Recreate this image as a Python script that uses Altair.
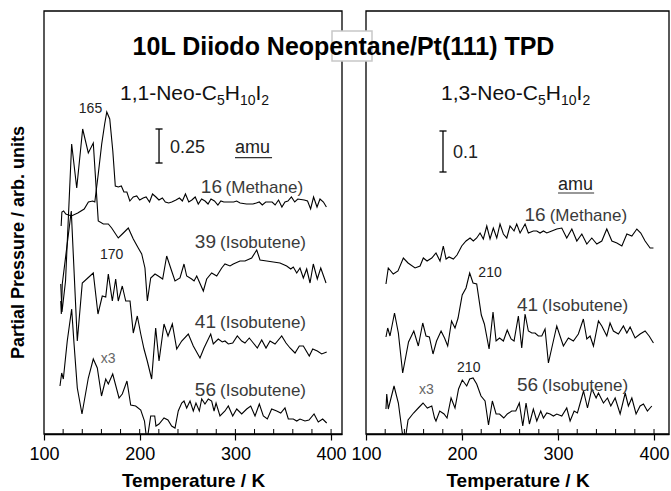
import altair as alt
import pandas as pd

FONT = "Liberation Sans"

# ---------------- data (T in K, signal in arb. units) ----------------
# Left panel: 1,1-Neo-C5H10I2
L_M16 = [(117.9,208),(118.7,222),(120.5,223),(122.8,220),(128.6,218),(135.3,221),(142.0,225),(146.4,232),
         (150.9,233),(153.1,232),(156.7,260),(160.3,290),(163.4,310),(165.6,322),(168.7,315),(171.9,283),
         (174.5,248),(177.7,247),(180.8,248),(183.5,242),(186.6,242),(189.7,233),(193.3,237),(196.9,238),
         (200.0,234),(203.6,236),(206.7,237),(210.3,232),(213.4,240),(217.0,237),(220.1,234),(223.7,236),
         (226.8,232),(230.3,231),(233.5,232),(237.9,234),(241.5,236),(244.6,233),(247.8,240),(251.3,232),
         (254.5,234),(258.0,237),(261.2,230),(264.7,235),(268.3,233),(271.4,230),(274.5,235),(278.1,233),
         (281.7,229),(284.8,233),(287.9,232),(291.5,232),(298.2,232),(301.3,233),(304.9,231),(311.6,230),
         (318.3,230),(321.9,231),(325.0,232),(328.1,229),(331.7,232),(338.4,232),(341.5,229),(345.1,234),
         (348.6,227),(351.8,232),(354.9,233),(358.5,237),(362.0,232),(365.2,235),(371.9,234),(375.4,233),
         (378.6,225),(381.7,237),(385.3,227),(388.4,235),(392.0,232),(395.1,227)]
L_I39 = [(117.5,150),(118.8,122),(122.5,153),(128.9,290),(134.2,246),(140.4,305),(146.3,281),(151.5,291),
         (156.7,213),(162.0,210),(167.2,210),(170.7,206),(177.6,196),(182.9,201),(188.1,206),(193.3,195),
         (198.5,186),(202.1,180),(205.5,166),(208.0,133),(211.5,156),(216.0,160),(219.4,158),(224.0,155),
         (228.2,178),(233.4,163),(236.9,153),(242.1,156),(246.3,170),(249.1,158),(254.3,155),(256.8,153),
         (259.6,158),(266.5,143),(270.0,155),(275.2,161),(280.5,158),(285.7,166),(289.1,170),(294.4,168),
         (297.8,170),(304.8,173),(310.0,173),(317.0,176),(322.3,184),(325.7,174),(332.7,173),(339.6,172),
         (346.6,171),(353.6,168),(357.8,165),(360.5,167),(364.1,161),(367.5,166),(371.0,156),(374.5,165),
         (378.0,151),(381.4,170),(385.6,155),(389.2,166),(394.7,151)]
L_I41 = [(117.5,133),(118.1,120),(119.1,150),(128.5,223),(134.8,93),(140.0,151),(151.5,161),(156.4,120),
         (160.9,138),(164.5,137),(167.2,160),(171.4,133),(174.9,155),(177.6,133),(181.8,148),(185.4,133),
         (189.9,133),(193.3,101),(197.5,118),(201.1,100),(204.5,85),(207.9,73),(212.5,55),(216.7,106),
         (220.2,73),(225.4,110),(229.6,98),(234.1,110),(238.7,85),(243.9,93),(250.8,100),(256.0,88),
         (263.0,76),(267.2,86),(274.2,100),(276.9,90),(282.1,95),(286.3,92),(289.1,93),(292.6,90),
         (297.2,91),(302.0,98),(306.6,93),(310.0,91),(314.5,96),(318.7,91),(322.9,86),(327.5,94),
         (332.0,86),(336.2,93),(341.4,90),(348.4,98),(352.9,91),(357.1,86),(362.3,81),(366.8,88),
         (371.0,88),(377.2,78),(380.8,85),(385.6,83),(390.2,80),(395.4,82)]
L_I56 = [(116.7,48),(118.5,61),(120.2,55),(124.3,93),(128.9,125),(131.4,90),(134.8,46),(139.7,20),
         (146.3,56),(151.5,75),(155.7,66),(160.1,38),(164.5,55),(167.2,50),(171.8,60),(178.4,36),
         (181.8,40),(186.7,53),(190.6,29),(195.8,28),(201.1,24),(205.0,13),(207.1,-4),(208.4,-2),
         (211.5,18),(215.7,18),(217.0,8),(220.2,10),(225.4,16),(229.5,14),(233.4,8),(236.9,6),
         (240.3,23),(243.9,31),(246.3,33),(249.1,26),(252.6,33),(256.0,23),(258.8,31),(262.3,23),
         (264.8,35),(268.2,30),(271.7,35),(275.2,33),(277.7,23),(279.8,31),(283.9,18),(289.1,23),
         (292.6,28),(297.2,18),(301.4,25),(306.6,20),(311.8,25),(316.0,28),(320.5,18),(325.0,30),
         (329.2,18),(333.4,15),(337.9,25),(343.2,23),(347.4,21),(351.8,26),(355.3,15),(360.5,15),
         (364.1,13),(367.5,15),(372.7,13),(376.9,14),(382.2,20),(386.6,12),(391.2,15),(395.4,11)]

# Right panel: 1,3-Neo-C5H10I2
R_M16 = [(120.8,150),(123.2,166),(128.4,160),(133.3,163),(138.9,176),(143.8,171),(151.1,166),(156.3,168),
         (159.7,176),(163.6,173),(168.5,176),(172.9,181),(177.1,173),(180.5,188),(183.4,175),(186.5,177),
         (191.0,175),(194.8,179),(199.7,188),(204.2,193),(208.4,196),(211.8,193),(215.3,196),(218.8,201),
         (222.2,195),(225.8,208),(229.2,195),(232.6,206),(236.2,196),(239.6,210),(243.1,200),(246.6,196),
         (250.0,208),(254.2,203),(257.0,210),(260.5,201),(265.7,210),(269.1,201),(274.3,203),(277.9,203),
         (281.3,201),(284.8,203),(288.3,201),(293.5,203),(298.7,205),(303.9,206),(309.1,196),(314.4,205),
         (319.6,193),(324.8,200),(330.0,190),(335.2,196),(340.4,190),(345.6,193),(350.8,205),(356.1,193),
         (361.3,191),(366.5,188),(371.7,200),(376.9,198),(382.1,205),(386.2,201),(390.7,193),(395.9,186),
         (399.4,186)]
R_I41 = [(120.8,97),(122.6,106),(125.0,98),(129.7,121),(133.7,101),(138.2,61),(144.3,92),(149.8,103),
         (154.5,88),(159.1,111),(162.5,98),(166.0,97),(169.8,80),(173.5,93),(178.2,103),(181.8,96),
         (185.1,88),(189.1,113),(192.7,106),(195.9,116),(200.2,139),(204.2,146),(208.0,161),(211.5,151),
         (215.3,150),(220.1,119),(223.3,110),(228.2,85),(232.3,122),(235.5,93),(239.1,96),(243.1,93),
         (247.1,104),(251.1,95),(254.2,93),(258.7,118),(262.2,86),(265.7,120),(269.1,103),(272.7,101),
         (276.1,101),(279.5,98),(283.1,98),(286.5,105),(290.0,71),(293.5,86),(298.7,108),(302.1,98),
         (305.6,88),(310.8,96),(316.0,93),(321.2,100),(326.4,115),(330.0,95),(333.4,98),(336.9,88),
         (342.1,113),(345.6,108),(350.8,98),(354.2,111),(357.7,103),(362.9,100),(368.1,108),(371.7,101),
         (375.1,107),(380.3,96),(385.5,100),(390.7,103),(394.9,98),(399.4,91)]
R_I56 = [(120.8,25),(121.6,40),(123.2,25),(129.2,48),(133.7,31),(137.8,1),(140.1,-7),(141.7,0),
         (143.8,14),(149.5,21),(154.5,26),(159.4,31),(163.9,26),(168.5,28),(171.4,16),(172.9,13),
         (176.8,23),(181.3,20),(184.4,16),(188.6,36),(192.7,26),(196.4,45),(200.3,54),(204.9,48),
         (208.0,55),(211.5,56),(215.3,50),(219.8,38),(224.0,33),(227.6,9),(231.6,33),(235.5,20),
         (239.1,20),(243.5,16),(247.2,20),(251.8,23),(256.0,23),(259.7,31),(263.3,8),(266.7,31),
         (270.2,10),(274.3,25),(277.9,13),(282.0,23),(284.8,16),(288.3,21),(291.7,20),(295.2,18),
         (298.7,20),(303.9,18),(309.1,26),(312.6,13),(316.8,23),(320.2,21),(323.1,31),(326.6,43),
         (330.7,26),(335.2,45),(339.7,36),(342.1,41),(347.3,31),(351.5,36),(355.0,28),(359.5,36),
         (364.7,20),(370.0,41),(373.3,28),(376.9,36),(381.3,20),(385.5,28),(389.0,30),(393.1,23),
         (397.7,28)]

MAJOR_TICKS = [100, 200, 300, 400]
MINOR_TICKS = [120, 140, 160, 180, 200, 220, 240, 260, 280, 300, 320, 340, 360, 380, 400]

H = 423
LEFT_W, RIGHT_W = 298, 303
LEFT_XMAX, RIGHT_XMAX = 411.4, 415.6
ONE = pd.DataFrame({"d": [0]})
LABEL = "#3a3a3a"


def traces_df(series):
    rows = []
    for name, pts in series.items():
        for T, h in pts:
            rows.append({"trace": name, "T": T, "h": h})
    return pd.DataFrame(rows)


class Panel:
    def __init__(self, xmax, yaxis):
        self.xscale = alt.Scale(domain=[100, xmax], nice=False, zero=False)
        self.yscale = alt.Scale(domain=[0, H], nice=False, zero=False)
        self.xaxis = alt.Axis(values=MAJOR_TICKS, title="Temperature / K", format="d",
                              labelFontSize=18, titleFontSize=19, titleFontWeight="bold",
                              tickSize=6, tickWidth=1.2, labelPadding=5, titlePadding=8,
                              labelFlush=False, domainWidth=1.6, grid=False)
        self.yaxis = yaxis

    def X(self, f):
        return alt.X(f"{f}:Q", scale=self.xscale, axis=self.xaxis)

    def Y(self, f):
        return alt.Y(f"{f}:Q", scale=self.yscale, axis=self.yaxis)

    def txt(self, T, h, s, size, align="left", color="#333", dx=0, dy=0):
        return alt.Chart(pd.DataFrame({"T": [T], "h": [h], "s": [s]})).mark_text(
            align=align, baseline="alphabetic", fontSize=size, color=color, dx=dx, dy=dy, font=FONT
        ).encode(x=self.X("T"), y=self.Y("h"), text="s:N")

    def formula(self, T, h, prefix):
        pieces = [(prefix, 21, 0, 0), ("5", 14, 96.9, 5), ("H", 21, 104.7, 0),
                  ("10", 14, 119.9, 5), ("I", 21, 135.5, 0), ("2", 14, 141.3, 5)]
        return [self.txt(T, h, s, sz, color="#111", dx=dx, dy=dy) for s, sz, dx, dy in pieces]

    def scale_bar(self, T, h1, h2, capw):
        bar = alt.Chart(pd.DataFrame({"T": [T], "h": [h1], "h2": [h2]})).mark_rule(
            color="black", strokeWidth=1.3).encode(x=self.X("T"), y=self.Y("h"), y2="h2:Q")
        caps = alt.Chart(pd.DataFrame({"T": [T - capw, T - capw], "T2": [T + capw, T + capw],
                                       "h": [h1, h2]})).mark_rule(color="black", strokeWidth=1.3).encode(
            x=self.X("T"), x2="T2:Q", y=self.Y("h"))
        return [bar, caps]

    def underline(self, T1, T2, h):
        return alt.Chart(pd.DataFrame({"T": [T1], "T2": [T2], "h": [h]})).mark_rule(
            color="#333", strokeWidth=1.2).encode(x=self.X("T"), x2="T2:Q", y=self.Y("h"))

    def minor_ticks(self):
        return alt.Chart(pd.DataFrame({"T": MINOR_TICKS})).mark_rule(color="black", strokeWidth=1).encode(
            x=self.X("T"), y=alt.value(H), y2=alt.value(H - 5))

    def lines(self, series):
        return alt.Chart(traces_df(series)).mark_line(color="black", strokeWidth=1.1, clip=True).encode(
            x=self.X("T"), y=self.Y("h"), detail="trace:N")


def frame(w):
    return alt.Chart(ONE).mark_rect(filled=False, stroke="black", strokeWidth=1.3).encode(
        x=alt.value(0), x2=alt.value(w), y=alt.value(0), y2=alt.value(H))


left_yaxis = alt.Axis(title="Partial Pressure / arb. units", labels=False, ticks=False, domain=False,
                      grid=False, titleFontSize=18, titleFontWeight="bold", titlePadding=17,
                      titleY=231)
LP = Panel(LEFT_XMAX, left_yaxis)

left_layers = [LP.lines({"16": L_M16, "39": L_I39, "41": L_I41, "56": L_I56}),
               frame(LEFT_W), LP.minor_ticks()]
left_layers += LP.formula(179.4, 334, "1,1-Neo-C")
left_layers += LP.scale_bar(220.2, 271, 305, 3.7)
left_layers += [
    LP.txt(231.7, 281, "0.25", 18, color="#222"),
    LP.txt(299.6, 281.3, "amu", 18, color="#222"),
    LP.underline(299.6, 338.3, 276.3),
    LP.txt(148.6, 321.3, "165", 14, align="center", color="#222"),
    LP.txt(170.7, 175, "170", 14, align="center", color="#222"),
    LP.txt(166.9, 71.3, "x3", 14, align="center", color="#666"),
    LP.txt(286.0, 241.3, "16", 19, align="right", color=LABEL),
    LP.txt(370.7, 241.3, "(Methane)", 17, align="right", color=LABEL),
    LP.txt(279.7, 186.3, "39", 19, align="right", color=LABEL),
    LP.txt(373.8, 186.3, "(Isobutene)", 17, align="right", color=LABEL),
    LP.txt(279.7, 105.7, "41", 19, align="right", color=LABEL),
    LP.txt(373.8, 105.7, "(Isobutene)", 17, align="right", color=LABEL),
    LP.txt(279.7, 38, "56", 19, align="right", color=LABEL),
    LP.txt(373.8, 38, "(Isobutene)", 17, align="right", color=LABEL),
]
left = alt.layer(*left_layers).properties(width=LEFT_W, height=H)

RP = Panel(RIGHT_XMAX, None)
right_layers = [RP.lines({"16": R_M16, "41": R_I41, "56": R_I56}),
                frame(RIGHT_W), RP.minor_ticks()]
right_layers += RP.formula(178.2, 334, "1,3-Neo-C")
right_layers += RP.scale_bar(180.2, 262, 303, 3.7)
right_layers += [
    RP.txt(190.7, 275.7, "0.1", 18, color="#222"),
    RP.txt(300.0, 244, "amu", 18, color="#222"),
    RP.underline(300.0, 337.6, 241),
    RP.txt(229.2, 157, "210", 14, align="center", color="#222"),
    RP.txt(207.0, 62.3, "210", 14, align="center", color="#222"),
    RP.txt(162.8, 40.3, "x3", 14, align="center", color="#666"),
    RP.txt(287.0, 213, "16", 19, align="right", color=LABEL),
    RP.txt(372.0, 213, "(Methane)", 17, align="right", color=LABEL),
    RP.txt(279.2, 123, "41", 19, align="right", color=LABEL),
    RP.txt(373.0, 123, "(Isobutene)", 17, align="right", color=LABEL),
    RP.txt(279.2, 43, "56", 19, align="right", color=LABEL),
    RP.txt(373.0, 43, "(Isobutene)", 17, align="right", color=LABEL),
    # small white box behind the title, straddling the gap between the panels
    alt.Chart(ONE).mark_rect(fill="white", stroke="#c8c8c8", strokeWidth=1.5).encode(
        x=alt.value(-34), x2=alt.value(6), y=alt.value(20), y2=alt.value(50)),
    alt.Chart(ONE).mark_text(fontSize=25, fontWeight="bold", font=FONT, align="center",
                             baseline="alphabetic", color="black").encode(
        x=alt.value(-22.5), y=alt.value(44), text=alt.value("10L Diiodo Neopentane/Pt(111) TPD")),
]
right = alt.layer(*right_layers).properties(width=RIGHT_W, height=H)

chart = alt.hconcat(left, right, spacing=24, bounds="flush").properties(
    padding={"left": 9, "top": 10, "right": 0, "bottom": 0},
    background="white",
).configure_view(stroke=None).configure_axis(
    grid=False, labelFont=FONT, titleFont=FONT, labelColor="black", titleColor="black",
    domainColor="black", tickColor="black")

chart.save("out.html", embed_options={"renderer": "svg", "actions": False})
